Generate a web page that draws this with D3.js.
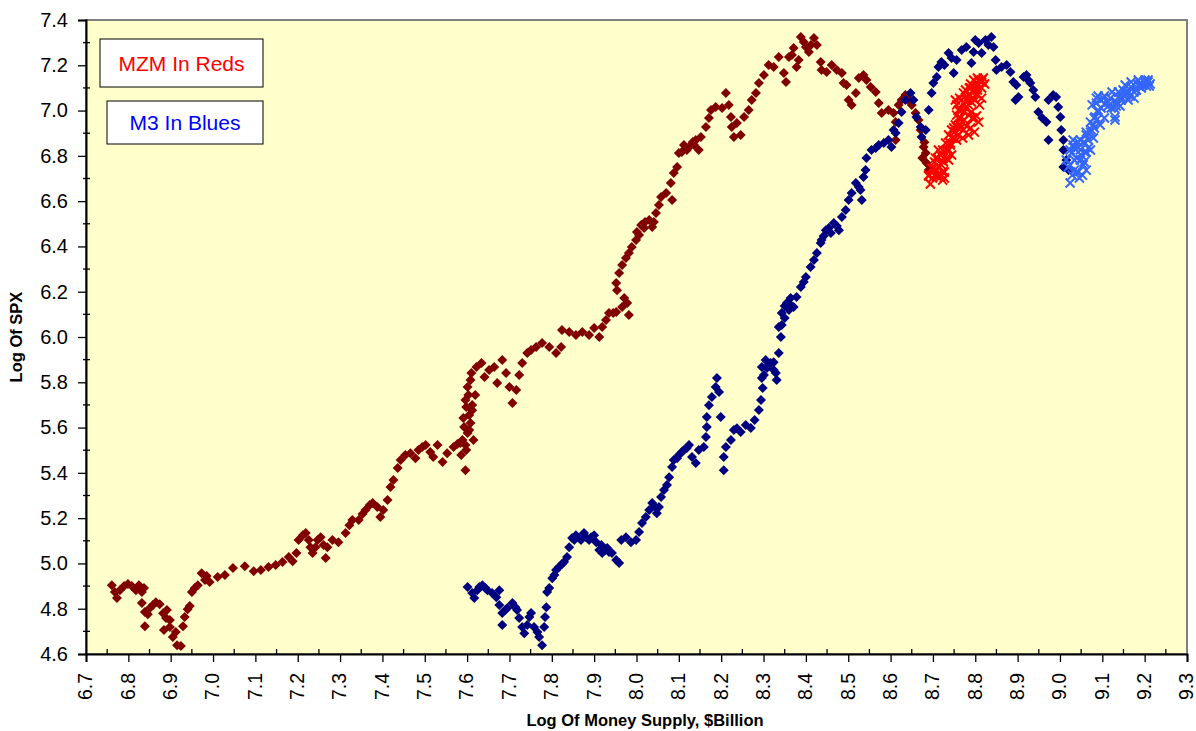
<!DOCTYPE html>
<html>
<head>
<meta charset="utf-8">
<script src="https://cdn.jsdelivr.net/npm/d3@7"></script>
<style>
  html, body { margin: 0; padding: 0; background: #ffffff; }
  svg { display: block; font-family: "Liberation Sans", Arial, sans-serif; }
</style>
</head>
<body>
<svg id="chart" width="1196" height="731"></svg>
<script>
// ---- Data ----
const xTicks = [6.7, 6.8, 6.9, 7.0, 7.1, 7.2, 7.3, 7.4, 7.5, 7.6, 7.7, 7.8, 7.9, 8.0, 8.1, 8.2, 8.3, 8.4, 8.5, 8.6, 8.7, 8.8, 8.9, 9.0, 9.1, 9.2, 9.3];
const yTicks = [4.6, 4.8, 5.0, 5.2, 5.4, 5.6, 5.8, 6.0, 6.2, 6.4, 6.6, 6.8, 7.0, 7.2, 7.4];
const legendLabels = ["MZM In Reds", "M3 In Blues"];
const xTitle = "Log Of Money Supply, $Billion";
const yTitle = "Log Of SPX";

// MZM history (dark red diamonds): [log money supply, log SPX]
const mzmHistory = [
[6.761,4.904],[6.768,4.874],[6.773,4.847],[6.780,4.882],[6.790,4.900],[6.799,4.909],[6.808,4.900],[6.818,4.882],[6.825,4.904],[6.832,4.874],[6.837,4.891],[6.832,4.825],[6.839,4.785],[6.839,4.723],[6.846,4.776],[6.851,4.803],[6.858,4.816],[6.865,4.829],[6.874,4.820],[6.882,4.780],[6.889,4.759],[6.884,4.706],[6.891,4.794],[6.898,4.750],[6.898,4.719],[6.905,4.675],[6.912,4.697],[6.915,4.639],[6.924,4.635],[6.929,4.723],[6.933,4.763],[6.940,4.798],[6.945,4.812],[6.950,4.874],[6.957,4.891],[6.964,4.904],[6.973,4.957],[6.981,4.927],[6.985,4.944],[6.992,4.918],[7.011,4.940],[7.028,4.949],[7.047,4.980],[7.075,4.988],[7.096,4.966],[7.113,4.971],[7.131,4.984],[7.148,4.993],[7.164,5.006],[7.179,5.028],[7.188,5.010],[7.197,5.046],[7.202,5.103],[7.212,5.125],[7.219,5.134],[7.226,5.103],[7.230,5.072],[7.235,5.046],[7.242,5.072],[7.247,5.103],[7.254,5.116],[7.261,5.081],[7.266,5.024],[7.270,5.072],[7.282,5.103],[7.296,5.094],[7.313,5.134],[7.322,5.169],[7.329,5.192],[7.344,5.192],[7.353,5.218],[7.360,5.236],[7.370,5.258],[7.377,5.267],[7.388,5.249],[7.395,5.205],[7.402,5.236],[7.412,5.280],[7.419,5.337],[7.426,5.368],[7.436,5.421],[7.443,5.457],[7.454,5.479],[7.466,5.487],[7.478,5.465],[7.485,5.501],[7.494,5.514],[7.502,5.523],[7.513,5.492],[7.520,5.470],[7.530,5.523],[7.542,5.448],[7.553,5.487],[7.568,5.514],[7.577,5.527],[7.584,5.532],[7.589,5.545],[7.596,5.412],[7.598,5.501],[7.593,5.602],[7.601,5.576],[7.598,5.691],[7.603,5.744],[7.601,5.779],[7.610,5.841],[7.605,5.655],[7.615,5.545],[7.608,5.620],[7.612,5.700],
[7.586,5.479],[7.596,5.523],[7.605,5.589],[7.612,5.677],[7.619,5.744],[7.608,5.810],[7.596,5.722],[7.591,5.642],
[7.622,5.868],[7.634,5.885],[7.641,5.823],[7.652,5.854],[7.664,5.868],[7.671,5.797],[7.683,5.898],[7.692,5.841],[7.700,5.779],[7.707,5.708],[7.716,5.766],[7.723,5.832],[7.730,5.885],[7.742,5.929],[7.751,5.943],[7.763,5.956],[7.777,5.973],[7.794,5.956],[7.810,5.929],[7.822,5.956],[7.824,6.031],[7.841,6.022],[7.857,6.009],[7.872,6.022],[7.888,6.009],[7.900,6.040],[7.912,6.000],[7.919,6.044],[7.928,6.075],[7.935,6.106],[7.945,6.106],[7.952,6.110],[7.966,6.132],[7.978,6.150],[7.982,6.097],[7.971,6.172],[7.954,6.207],[7.952,6.238],[7.959,6.283],[7.966,6.318],[7.975,6.349],[7.982,6.371],[7.989,6.397],[7.999,6.428],[8.001,6.464],[8.011,6.495],[8.020,6.508],[8.030,6.517],[8.037,6.486],[8.046,6.548],[8.053,6.583],[8.058,6.618],[8.070,6.636],[8.081,6.680],[8.084,6.605],[8.088,6.724],[8.096,6.751],[8.100,6.813],[8.112,6.848],[8.124,6.839],[8.133,6.861],[8.140,6.870],[8.152,6.883],
[8.006,6.450],[8.018,6.481],[8.041,6.508],[8.119,6.826],[8.136,6.848],[8.147,6.826],[8.107,6.817],
[8.164,6.927],[8.171,6.967],[8.176,7.002],[8.187,7.016],[8.202,7.011],[8.211,7.078],[8.218,7.025],[8.223,6.972],[8.225,6.927],[8.230,6.883],[8.237,6.945],[8.246,6.892],[8.254,6.972],[8.265,7.002],[8.272,7.047],[8.282,7.078],[8.289,7.122],[8.301,7.157],[8.312,7.201],[8.324,7.192],[8.336,7.237],[8.348,7.166],[8.353,7.126],[8.360,7.237],[8.371,7.276],[8.378,7.192],[8.388,7.325],[8.400,7.281],[8.407,7.259],[8.419,7.320],[8.426,7.290],[8.435,7.214],[8.437,7.179],[8.449,7.170],
[8.367,7.245],[8.395,7.303],[8.412,7.290],[8.383,7.223],
[8.461,7.201],[8.473,7.179],[8.485,7.166],[8.489,7.122],[8.496,7.113],[8.501,7.047],[8.508,7.025],[8.518,7.078],[8.525,7.144],[8.536,7.157],[8.543,7.135],[8.553,7.104],[8.565,7.082],[8.572,7.033],[8.579,6.989],[8.595,7.002],[8.607,6.989],[8.619,7.025],[8.626,7.047],[8.635,7.069],[8.642,7.047],[8.650,7.025],[8.659,6.989],[8.666,6.958],[8.671,6.914],[8.612,6.949],[8.612,6.870],[8.678,6.839],[8.683,6.813],[8.685,6.768],[8.690,6.737],[8.675,6.790],[8.680,6.860]
];

// MZM recent (red x marks)
const mzmRecent = [
[8.694,6.676],[8.690,6.715],[8.697,6.746],[8.704,6.773],[8.709,6.737],[8.716,6.715],[8.720,6.760],[8.725,6.790],[8.732,6.826],[8.737,6.782],[8.727,6.729],[8.718,6.804],[8.741,6.848],[8.746,6.879],[8.751,6.905],[8.756,6.870],[8.753,6.936],[8.760,6.967],[8.765,7.002],[8.756,7.025],[8.767,7.047],[8.772,7.078],[8.779,7.047],[8.784,7.069],[8.789,7.100],[8.796,7.091],[8.791,6.994],[8.798,6.967],[8.803,7.113],[8.808,7.135],[8.815,7.126],[8.819,7.144],[8.765,6.923],[8.774,6.958],[8.784,7.025],[8.793,7.056],[8.713,6.826],[8.737,6.826],[8.744,6.804],[8.704,6.715],[8.723,6.693],[8.749,6.923],[8.777,7.011],[8.805,7.069],[8.706,6.790],
[8.690,6.711],[8.699,6.702],[8.709,6.711],[8.701,6.746],[8.713,6.755],[8.723,6.729],[8.725,6.773],[8.711,6.790],[8.732,6.790],[8.737,6.826],[8.723,6.826],[8.741,6.857],[8.730,6.857],[8.749,6.879],[8.737,6.892],[8.744,6.914],[8.718,6.707],[8.727,6.702],
[8.756,6.927],[8.765,6.936],[8.772,6.914],[8.779,6.932],[8.789,6.923],[8.798,6.905],[8.756,6.980],[8.765,6.967],[8.774,6.994],[8.784,6.980],[8.793,6.967],[8.803,6.976],[8.808,6.949],[8.753,7.047],[8.763,7.055],[8.772,7.033],[8.782,7.047],[8.791,7.038],[8.800,7.047],[8.810,7.025],[8.815,7.055],[8.777,7.091],[8.786,7.100],[8.796,7.082],[8.805,7.091],[8.815,7.100],[8.796,7.135],[8.805,7.144],[8.815,7.135],[8.822,7.117],[8.789,7.117],[8.760,7.002],[8.784,6.892],[8.770,6.879],[8.760,6.892]
];

// M3 history (navy diamonds)
const m3History = [
[7.601,4.896],[7.612,4.869],[7.617,4.847],[7.624,4.882],[7.629,4.896],[7.636,4.904],[7.643,4.891],[7.648,4.882],[7.659,4.869],[7.669,4.851],[7.676,4.882],[7.676,4.816],[7.683,4.781],[7.683,4.728],[7.690,4.794],[7.695,4.803],[7.707,4.825],[7.714,4.807],[7.718,4.794],[7.723,4.759],[7.730,4.719],[7.735,4.692],[7.742,4.728],[7.747,4.763],[7.751,4.781],[7.758,4.719],[7.766,4.697],[7.770,4.675],[7.777,4.639],[7.782,4.719],[7.784,4.763],[7.787,4.807],[7.789,4.874],[7.794,4.891],[7.801,4.935],[7.806,4.949],[7.810,4.971],[7.817,4.984],[7.824,4.997],[7.829,5.006],[7.836,5.028],[7.841,5.072],[7.848,5.112],[7.857,5.125],[7.865,5.112],[7.869,5.103],[7.876,5.134],[7.888,5.103],[7.900,5.125],[7.905,5.094],[7.912,5.059],[7.919,5.046],[7.926,5.059],[7.931,5.068],[7.942,5.046],[7.952,5.015],[7.959,5.002],
[7.853,5.103],[7.881,5.116],[7.893,5.116],[7.917,5.081],[7.935,5.050],
[7.964,5.103],[7.975,5.116],[7.987,5.094],[7.999,5.103],[8.006,5.139],[8.013,5.178],[8.022,5.205],[8.030,5.236],[8.037,5.267],[8.044,5.249],[8.048,5.222],[8.053,5.249],[8.058,5.293],[8.065,5.324],[8.072,5.346],[8.077,5.381],[8.084,5.426],[8.088,5.457],[8.100,5.479],[8.112,5.501],[8.124,5.523],
[8.096,5.465],[8.107,5.492],[8.119,5.510],
[8.131,5.470],[8.140,5.443],[8.147,5.501],[8.159,5.514],[8.164,5.558],[8.166,5.602],[8.166,5.647],[8.171,5.699],[8.178,5.735],[8.187,5.779],[8.190,5.819],[8.195,5.757],[8.199,5.647],[8.206,5.412],[8.206,5.470],[8.211,5.514],[8.223,5.545],[8.230,5.589],[8.237,5.597],[8.246,5.580],[8.258,5.611],[8.270,5.598],[8.279,5.633],[8.289,5.678],[8.294,5.722],[8.298,5.775],[8.296,5.819],[8.296,5.867],[8.305,5.898],[8.312,5.876],[8.317,5.885],[8.324,5.854],[8.329,5.841],[8.331,5.810],[8.336,5.929],[8.341,6.000],[8.336,6.044],[8.343,6.106],[8.350,6.137],[8.355,6.150],[8.364,6.141],[8.371,6.132],[8.378,6.177],
[8.301,5.832],[8.308,5.863],[8.324,5.889],[8.343,6.053],[8.350,6.084],[8.364,6.172],[8.360,6.119],
[8.388,6.221],[8.395,6.243],[8.400,6.265],[8.411,6.309],[8.419,6.340],[8.426,6.371],[8.435,6.415],[8.442,6.446],[8.447,6.472],[8.459,6.459],[8.466,6.503],[8.478,6.472],[8.485,6.530],
[8.437,6.428],[8.454,6.481],[8.473,6.490],
[8.494,6.561],[8.501,6.605],[8.508,6.636],[8.518,6.680],[8.525,6.662],[8.529,6.649],[8.532,6.605],[8.536,6.707],[8.541,6.737],[8.543,6.790],[8.555,6.826],[8.565,6.835],[8.572,6.848],[8.584,6.857],[8.595,6.870],[8.602,6.839],[8.607,6.914],[8.612,6.901],[8.619,6.945],[8.626,6.994],[8.635,7.047],[8.647,7.078],[8.654,7.047],[8.661,6.972],[8.671,6.927],[8.673,6.883],[8.683,6.914],[8.690,7.002],[8.697,7.078],[8.701,7.122],[8.709,7.148],[8.713,7.192],[8.720,7.214],[8.727,7.201],[8.737,7.254],[8.744,7.232],[8.749,7.166],[8.756,7.223],[8.768,7.267],[8.779,7.281],[8.791,7.210],[8.796,7.259],[8.800,7.312],[8.808,7.298],[8.815,7.254],[8.824,7.312],[8.831,7.290],[8.838,7.325],[8.843,7.281],[8.848,7.223],[8.850,7.179],[8.862,7.192],[8.874,7.201],[8.883,7.170],[8.890,7.126],[8.897,7.113],[8.895,7.047],[8.902,7.060],[8.914,7.148],[8.921,7.157],[8.925,7.135],[8.930,7.122],[8.937,7.091],[8.942,7.060],[8.949,6.994],[8.958,6.967],[8.968,6.949],[8.973,6.870],[8.973,7.047],[8.984,7.069],[8.991,7.060],[8.996,7.016],[9.001,6.972],[9.003,6.914],[9.008,6.870],[9.008,6.826],[9.015,6.782],[9.008,6.751],[9.020,6.737]
];

// M3 recent (light blue x marks)
const m3Recent = [
[9.024,6.680],[9.020,6.751],[9.027,6.813],[9.034,6.782],[9.039,6.729],[9.043,6.839],[9.050,6.804],[9.055,6.760],[9.060,6.813],[9.067,6.870],[9.072,6.826],[9.074,6.914],[9.079,6.936],[9.083,6.972],[9.086,7.033],[9.090,7.002],[9.097,7.047],[9.105,7.029],[9.114,7.038],[9.121,7.011],[9.130,6.972],[9.133,7.020],[9.138,7.060],[9.149,7.091],[9.156,7.069],[9.168,7.104],[9.175,7.082],[9.185,7.113],[9.192,7.100],[9.201,7.135],[9.208,7.126],[9.211,7.108],[9.031,6.848],[9.048,6.870],[9.062,6.905],[9.079,6.879],[9.102,7.055],[9.145,7.047],[9.163,7.082],[9.180,7.091],[9.196,7.113],[9.029,6.715],[9.046,6.702],
[9.015,6.782],[9.024,6.760],[9.034,6.737],[9.043,6.729],[9.053,6.715],[9.062,6.737],[9.039,6.790],[9.048,6.782],[9.057,6.773],[9.024,6.826],[9.034,6.835],[9.048,6.826],[9.062,6.817],[9.031,6.870],[9.043,6.861],[9.057,6.861],[9.067,6.835],
[9.062,6.892],[9.072,6.905],[9.081,6.923],[9.072,6.949],[9.081,6.967],[9.090,6.994],[9.086,6.958],[9.095,6.936],[9.076,7.025],[9.086,7.055],[9.097,7.011],[9.105,6.967],
[9.090,7.064],[9.105,7.064],[9.119,7.055],[9.133,7.038],[9.147,7.055],[9.114,7.020],[9.128,7.011],[9.142,7.020],[9.156,7.082],[9.166,7.064],[9.180,7.091],[9.189,7.117],[9.199,7.126],[9.208,7.135],[9.154,7.113],[9.168,7.126],[9.185,7.135],[9.204,7.108],[9.213,7.117],[9.138,7.082],[9.123,7.082],[9.161,7.047],[9.175,7.055],[9.130,6.958]
];

// ---- Drawing ----
const svg = d3.select("#chart");
const L = 86, R = 1187, T = 20, B = 654;
const x = d3.scaleLinear().domain([6.7, 9.3]).range([L, R]);
const y = d3.scaleLinear().domain([4.6, 7.4]).range([B, T]);

svg.append("rect").attr("x", L).attr("y", T).attr("width", R - L).attr("height", B - T)
  .attr("fill", "#FFFFCC").attr("stroke", "#808080").attr("stroke-width", 2);

const plot = svg.append("g");
const diamond = "M0,-5L5,0L0,5L-5,0Z";
const cross = "M-4.5,-4.5L4.5,4.5M-4.5,4.5L4.5,-4.5";

function diamonds(data, color) {
  plot.append("g").selectAll("path").data(data).join("path")
    .attr("d", diamond)
    .attr("transform", d => `translate(${x(d[0])},${y(d[1])})`)
    .attr("fill", color);
}
function crosses(data, color) {
  plot.append("g").selectAll("path").data(data).join("path")
    .attr("d", cross)
    .attr("transform", d => `translate(${x(d[0])},${y(d[1])})`)
    .attr("fill", "none").attr("stroke", color).attr("stroke-width", 2);
}
diamonds(mzmHistory, "#800000");
diamonds(m3History, "#000080");
crosses(mzmRecent, "#FF0000");
crosses(m3Recent, "#3366FF");

// Axes
const font = '"Liberation Sans", Arial, sans-serif';
const yAxis = d3.axisLeft(y).tickValues(yTicks).tickFormat(d3.format(".1f")).tickSize(8).tickPadding(10);
const gy = svg.append("g").attr("transform", `translate(${L},0)`).call(yAxis);
gy.select(".domain").attr("stroke", "#000").attr("stroke-width", 2);
gy.selectAll(".tick line").attr("stroke", "#000").attr("stroke-width", 1.3);
gy.selectAll(".tick text").attr("font-size", 20).attr("font-family", font).attr("fill", "#000");

const yMinor = d3.range(4.7, 7.4, 0.2);
svg.append("g").selectAll("line").data(yMinor).join("line")
  .attr("x1", L - 3).attr("x2", L + 4).attr("y1", d => y(d)).attr("y2", d => y(d))
  .attr("stroke", "#000").attr("stroke-width", 1.3);

const xAxis = d3.axisBottom(x).tickValues(xTicks).tickFormat(d3.format(".1f")).tickSize(8);
const gx = svg.append("g").attr("transform", `translate(0,${B})`).call(xAxis);
gx.select(".domain").attr("stroke", "#000").attr("stroke-width", 2);
gx.selectAll(".tick line").attr("stroke", "#000").attr("stroke-width", 1.3);
gx.selectAll(".tick text")
  .attr("font-size", 19.5).attr("font-family", font).attr("fill", "#000")
  .attr("text-anchor", "end").attr("y", 0).attr("dy", "0.3em")
  .attr("transform", "translate(0,19) rotate(-90)");

const xMinor = xTicks.slice(0, -1).map(v => v + 0.05);
svg.append("g").selectAll("line").data(xMinor).join("line")
  .attr("x1", d => x(d)).attr("x2", d => x(d)).attr("y1", B - 5).attr("y2", B)
  .attr("stroke", "#000").attr("stroke-width", 1.3);

// Axis titles
svg.append("text").attr("x", 645).attr("y", 726).attr("text-anchor", "middle")
  .attr("font-family", font).attr("font-weight", "bold").attr("font-size", 16.5).text(xTitle);
svg.append("text").attr("transform", "translate(22,337) rotate(-90)").attr("text-anchor", "middle")
  .attr("font-family", font).attr("font-weight", "bold").attr("font-size", 16.5).text(yTitle);

// Legend boxes (text labels)
const boxes = [
  { x: 100, y: 39, w: 163, h: 48, color: "#FF0000" },
  { x: 107, y: 101, w: 156, h: 43, color: "#0000FF" }
];
boxes.forEach((b, i) => {
  svg.append("rect").attr("x", b.x).attr("y", b.y).attr("width", b.w).attr("height", b.h)
    .attr("fill", "#fff").attr("stroke", "#000").attr("stroke-width", 1);
  svg.append("text").attr("x", b.x + b.w / 2).attr("y", b.y + b.h / 2).attr("dy", "0.36em")
    .attr("text-anchor", "middle").attr("font-family", font).attr("font-size", 21)
    .attr("fill", b.color).text(legendLabels[i]);
});
</script>
</body>
</html>
